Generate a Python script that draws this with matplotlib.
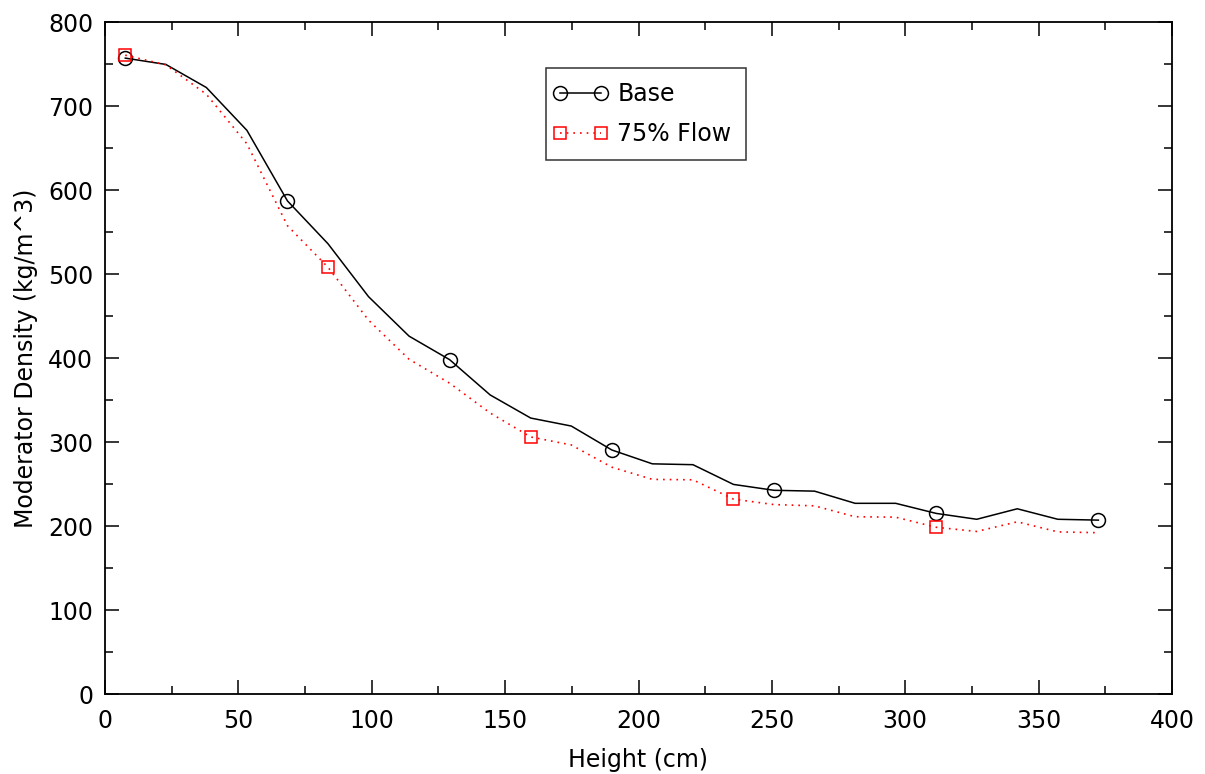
import matplotlib
matplotlib.use("Agg")
import matplotlib.pyplot as plt
from matplotlib.ticker import MultipleLocator
from matplotlib.lines import Line2D
from matplotlib.legend_handler import HandlerLine2D

height = [7.6, 22.8, 38.0, 53.2, 68.4, 83.6, 98.8, 114.0, 129.2, 144.4, 159.6, 174.8,
          190.0, 205.2, 220.4, 235.6, 250.8, 266.0, 281.2, 296.4, 311.6, 326.8, 342.0,
          357.2, 372.4]
base = [757, 749.5, 722, 671, 587, 536, 473, 426, 398, 356, 328.5, 319,
        290.5, 274, 273, 249.5, 242.5, 241.5, 227, 227, 215, 208, 220.5, 208, 207]
flow75 = [760.5, 749, 714, 655, 557.5, 508, 445, 398.5, 370, 334.5, 306, 296.5,
          270, 255.5, 255, 232, 225.5, 224, 211, 210.5, 198.5, 193.5, 205, 193, 192]

FS = 17

fig = plt.figure(figsize=(12.05, 7.74), dpi=100)
ax = fig.add_axes([105/1205, 80/774, 1067/1205, 672/774])

ax.plot(height, base, color='black', lw=1.1, marker='o', markersize=10,
        markerfacecolor='none', markeredgewidth=1.1, markevery=4, label='Base')
ax.plot(height, flow75, color='red', lw=1.2, linestyle=(0, (1, 3)), marker='s',
        markersize=8.5, markerfacecolor='none', markeredgewidth=1.1, markevery=5,
        label='75% Flow')

ax.set_xlim(0, 400)
ax.set_ylim(0, 800)
ax.xaxis.set_major_locator(MultipleLocator(50))
ax.xaxis.set_minor_locator(MultipleLocator(25))
ax.yaxis.set_major_locator(MultipleLocator(100))
ax.yaxis.set_minor_locator(MultipleLocator(50))
ax.tick_params(which='both', direction='in', top=True, right=True, width=1.1,
               labelsize=FS)
ax.tick_params(axis='x', which='both', pad=11)
ax.tick_params(axis='y', which='both', pad=8.5)
ax.tick_params(which='major', length=10)
ax.tick_params(which='minor', length=6)
for s in ax.spines.values():
    s.set_linewidth(1.3)

ax.set_xlabel('Height (cm)', fontsize=FS)
ax.set_ylabel('Moderator Density (kg/m^3)', fontsize=FS)
ax.xaxis.set_label_coords(0.5, -0.081)
ax.yaxis.set_label_coords(-0.063, 0.5)

leg = ax.legend(loc='upper left', bbox_to_anchor=(0.4133, 0.9315), numpoints=2,
                fontsize=FS, frameon=True, fancybox=False, handlelength=1.74,
                borderpad=0.6, labelspacing=0.67, handletextpad=0.68, borderaxespad=0,
                handler_map={Line2D: HandlerLine2D(marker_pad=0, numpoints=2)})
leg.get_frame().set_edgecolor('black')
leg.get_frame().set_linewidth(1.1)

fig.savefig('out.png', dpi=100)
